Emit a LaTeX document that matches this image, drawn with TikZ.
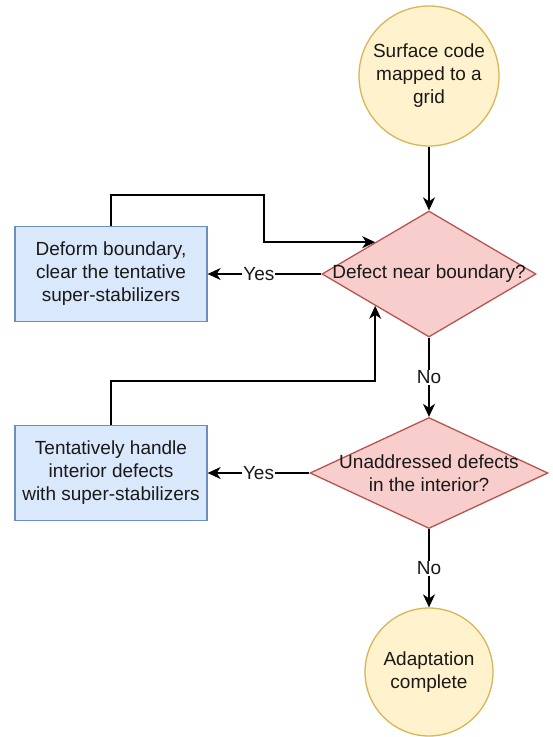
\documentclass[tikz,border=0pt]{standalone}
\usepackage{fontspec}
\setmainfont{Liberation Sans}
\usetikzlibrary{shapes.geometric}
\usetikzlibrary{arrows.meta}
\usetikzlibrary{calc}

\definecolor{termfill}{HTML}{FFF2CC}
\definecolor{termline}{HTML}{D6B656}
\definecolor{askfill}{HTML}{F8CECC}
\definecolor{askline}{HTML}{B85450}
\definecolor{dofill}{HTML}{DAE8FC}
\definecolor{doline}{HTML}{6C8EBF}

\tikzset{
  every node/.style={font=\fontsize{19}{23}\selectfont, align=center, text=black!90},
  terminal/.style={circle, draw=termline, fill=termfill, line width=1.3pt, inner sep=0pt},
  decision/.style={diamond, draw=askline, fill=askfill, line width=1.3pt, inner sep=0pt},
  action/.style={rectangle, draw=doline, fill=dofill, line width=1.3pt, inner sep=0pt,
                 minimum width=192pt, minimum height=95pt},
  arr/.style={line width=1.5pt, -{Stealth[length=13pt, width=12pt, inset=4pt]}},
  answer/.style={fill=white, inner sep=1pt},
}

\begin{document}
\begin{tikzpicture}[x=1pt, y=-1pt]
    \useasboundingbox (0, 0) rectangle (553, 737);
    % start and end
    \node [terminal, minimum size=140pt] (start) at (429, 76) {Surface code\\mapped to a\\grid};
    \node [terminal, minimum size=128pt] (done) at (429, 672) {Adaptation\\complete};
    % questions
    \node [decision, aspect=1.7, minimum width=214pt, minimum height=126pt,
           label={center:Defect near boundary?}] (near) at (429, 274) {};
    \node [decision, aspect=2.14, minimum width=238pt, minimum height=111pt,
           label={center:Unaddressed defects\\in the interior?}] (interior) at (429, 473) {};
    % actions
    \node [action] (deform) at (111, 274) {Deform boundary,\\clear the tentative\\super-stabilizers};
    \node [action] (handle) at (111, 473) {Tentatively handle\\interior defects\\with super-stabilizers};
    % main flow
    \draw [arr] (start) to (near);
    \draw [arr] (near) to node[answer] {No} (interior);
    \draw [arr] (interior) to node[answer] {No} (done);
    \draw [arr] (near.west) to node[answer, pos=0.55] {Yes} (deform.east);
    \draw [arr] (interior.west) to node[answer] {Yes} (handle.east);
    % loops back
    \coordinate (bend) at (264, 195);
    \draw [arr] (deform.north) |- (bend) |- ($(near.west)!0.5!(near.north)$);
    \draw [arr] (handle.north) |- ++(0, -44) -| ($(near.west)!0.5!(near.south)$);
\end{tikzpicture}
\end{document}
